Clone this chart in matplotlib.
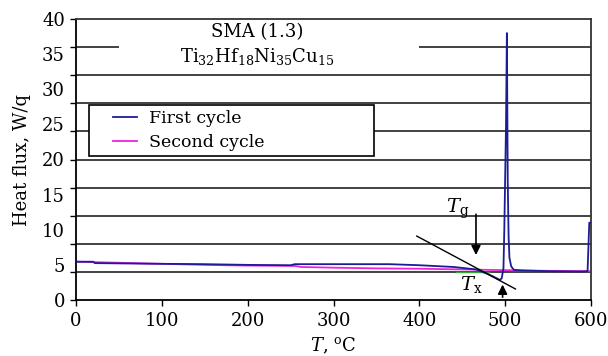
import numpy as np
import matplotlib
matplotlib.use("Agg")
import matplotlib.pyplot as plt
from matplotlib.patches import Rectangle
from matplotlib.legend_handler import HandlerLine2D
from matplotlib.lines import Line2D

plt.rcParams['font.family'] = ['DejaVu Serif']
plt.rcParams['mathtext.fontset'] = 'dejavuserif'

# ---- data ----
first_T = [0, 20, 22, 60, 100, 150, 200, 250, 255, 300, 365, 400, 440, 466, 480, 490,
           494, 496, 498, 499, 500, 501, 502, 503, 504, 505, 507, 510, 520, 550, 590, 596, 598, 600]
first_flux = [5.45, 5.45, 5.25, 5.2, 5.15, 5.1, 5.0, 4.95, 5.1, 5.1, 5.1, 4.95, 4.7, 4.35, 3.7, 3.1,
              2.85, 3.1, 4.5, 10, 17.5, 25, 38, 17, 9, 6, 4.8, 4.3, 4.2, 4.1, 4.05, 4.1, 11, 11]
second_T = [0, 50, 100, 150, 200, 255, 262, 300, 350, 400, 450, 500, 550, 600]
second_flux = [5.45, 5.3, 5.15, 5.0, 4.9, 4.85, 4.7, 4.6, 4.5, 4.45, 4.35, 4.25, 4.15, 4.1]
tangent_T = [397, 512]
tangent_flux = [9.1, 1.57]
baseline_T = [443, 481]
baseline_flux = [4.0, 4.0]
Tg_T, Tg_top, Tg_tip = 466, 12.6, 6.0
Tx_T, Tx_bottom, Tx_tip = 497, 0.0, 2.6
series_labels = ["First cycle", "Second cycle"]
yticklabels = [0, 5, 10, 15, 20, 25, 30, 35, 40]
xticks = [0, 100, 200, 300, 400, 500, 600]
gridlines = [4, 8, 12, 16, 20, 24, 28, 32, 36]

fig = plt.figure(figsize=(6.08, 3.56), dpi=100)
ax = fig.add_axes([76/608, 56/356, 515/608, 281/356])
ax.set_xlim(0, 600)
ax.set_ylim(0, 40)

# gridlines
for g in gridlines:
    ax.axhline(g, color='#222222', lw=1.2, zorder=0.5)

# white box behind titles (interrupts 36 line)
ax.add_patch(Rectangle((50, 33), 350, 6.5, facecolor='white', edgecolor='none', zorder=1))

blue = '#1c1c96'
mag = '#ee22dd'
l2, = ax.plot(second_T, second_flux, color=mag, lw=1.3, zorder=2, label=series_labels[1])
l1, = ax.plot(first_T, first_flux, color=blue, lw=1.3, zorder=3, label=series_labels[0])
ax.plot(baseline_T, baseline_flux, color='#33aa33', lw=1.0, zorder=2.5)
ax.plot(tangent_T, tangent_flux, color='black', lw=1.0, zorder=4)

ax.annotate('', xy=(Tg_T, Tg_tip), xytext=(Tg_T, Tg_top),
            arrowprops=dict(arrowstyle='-|>', color='black', lw=1.2, mutation_scale=14), zorder=5)
ax.annotate('', xy=(Tx_T, Tx_tip), xytext=(Tx_T, Tx_bottom),
            arrowprops=dict(arrowstyle='-|>', color='black', lw=1.2, mutation_scale=14), zorder=5)
ax.text(445, 13.0, r'$T_{\mathrm{g}}$', fontsize=14, ha='center', va='center')
ax.text(461, 2.2, r'$T_{\mathrm{x}}$', fontsize=14, ha='center', va='center')

ax.text(211, 38.2, 'SMA (1.3)', fontsize=13, ha='center', va='center', zorder=6)
ax.text(211, 34.6, r'Ti$_{32}$Hf$_{18}$Ni$_{35}$Cu$_{15}$', fontsize=13,
        ha='center', va='center', zorder=6)

# ticks
ax.set_xticks(xticks)
ax.tick_params(axis='x', direction='out', length=4, width=1, pad=5, labelsize=13)
ax.yaxis.remove_overlapping_locs = False
ax.set_yticks(list(range(0, 41, 4)))
ax.set_yticklabels([])
ax.tick_params(axis='y', which='major', direction='out', length=4.5, width=1)
ax.set_yticks(yticklabels, minor=True)
ax.set_yticklabels([str(v) for v in yticklabels], minor=True)
ax.tick_params(axis='y', which='minor', length=0, pad=8, labelsize=13)

for s in ax.spines.values():
    s.set_linewidth(1.3)
    s.set_color('black')
ax.spines['top'].set_color('#333333')
ax.spines['right'].set_color('#333333')

ax.set_xlabel(r'$T$, $^{\mathrm{o}}$C', fontsize=13, labelpad=4)
ax.set_ylabel('Heat flux, W/q', fontsize=13, labelpad=8)


class OffsetHandler(HandlerLine2D):
    def create_artists(self, legend, orig_handle, xdescent, ydescent, width, height, fontsize, trans):
        artists = super().create_artists(legend, orig_handle, xdescent, ydescent, width, height, fontsize, trans)
        for a in artists:
            if isinstance(a, Line2D):
                xs = np.asarray(a.get_xdata(), dtype=float)
                if len(xs) >= 2:
                    x0, x1 = xs.min(), xs.max()
                    a.set_xdata(np.linspace(x0 + 0.43 * (x1 - x0), x1, len(xs)))
        return artists


leg = ax.legend(handles=[l1, l2], loc='upper left',
                bbox_to_anchor=(0.025, 0.527, 0.554, 0.167), mode='expand',
                borderaxespad=0, fontsize=12.5, frameon=True, fancybox=False,
                edgecolor='black', framealpha=1, handlelength=2.5, handletextpad=0.66,
                borderpad=0.3, labelspacing=0.4,
                handler_map={Line2D: OffsetHandler()})
leg.get_frame().set_linewidth(1.2)
leg.set_zorder(7)

fig.savefig('out.png', dpi=100)
